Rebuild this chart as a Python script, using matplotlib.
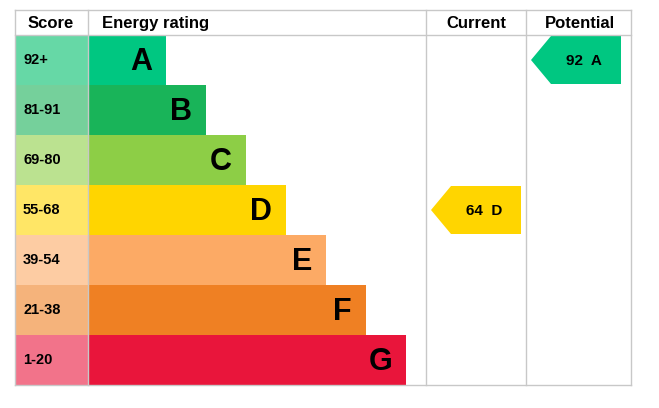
import matplotlib
matplotlib.use("Agg")
import matplotlib.pyplot as plt
from matplotlib.patches import Rectangle, Polygon

plt.rcParams["font.family"] = "Liberation Sans"

# data
letters = ["A", "B", "C", "D", "E", "F", "G"]
scores = ["92+", "81-91", "69-80", "55-68", "39-54", "21-38", "1-20"]
bar_ends = [166, 206, 246, 286, 326, 366, 406]
bar_colors = ["#00c781", "#19b459", "#8dce46", "#ffd500", "#fcaa65", "#ef8023", "#e9153b"]
cell_colors = ["#66d8a6", "#75d09b", "#bbe290", "#ffe666", "#fdcca3", "#f5b37b", "#f2738a"]
current = (64, "D")
potential = (92, "A")

W, H = 659, 408
fig = plt.figure(figsize=(W / 100, H / 100), dpi=100)
ax = fig.add_axes([0, 0, 1, 1])
ax.set_xlim(0, W)
ax.set_ylim(H, 0)
ax.axis("off")

left, right = 15, 631
top, head = 10, 35
rowh = 50
x_score, x_cur, x_pot = 88, 426, 526
bottom = head + rowh * len(letters)

def band_of(score):
    lims = [92, 81, 69, 55, 39, 21, 1]
    for i, lo in enumerate(lims):
        if score >= lo:
            return i
    return len(lims) - 1

for i, (l, s) in enumerate(zip(letters, scores)):
    y = head + i * rowh
    ax.add_patch(Rectangle((left, y), x_score - left, rowh, color=cell_colors[i], lw=0))
    ax.add_patch(Rectangle((x_score, y), bar_ends[i] - x_score, rowh, color=bar_colors[i], lw=0))
    ax.text(left + 8, y + rowh / 2, s, fontsize=10.5, fontweight="bold", va="center", ha="left")
    ax.text(bar_ends[i] - 14, y + rowh / 2 + 2, l, fontsize=22, fontweight="bold", va="center", ha="right")

# table lines
lc = "#c8c8c8"
for x in [left, x_score, x_cur, x_pot, right]:
    ax.plot([x, x], [top, bottom], color=lc, lw=1)
for y in [top, head, bottom]:
    ax.plot([left, right], [y, y], color=lc, lw=1)

hy = (top + head) / 2 + 1
ax.text(51, hy, "Score", fontsize=12, fontweight="bold", ha="center", va="center")
ax.text(102, hy, "Energy rating", fontsize=12, fontweight="bold", ha="left", va="center")
ax.text(476, hy, "Current", fontsize=12, fontweight="bold", ha="center", va="center")
ax.text(580, hy, "Potential", fontsize=12, fontweight="bold", ha="center", va="center")

def arrow(x0, val):
    score, letter = val
    i = band_of(score)
    y = head + i * rowh
    pts = [(x0 + 5, y + rowh / 2), (x0 + 25, y + 1), (x0 + 95, y + 1),
           (x0 + 95, y + rowh - 1), (x0 + 25, y + rowh - 1)]
    ax.add_patch(Polygon(pts, closed=True, color=bar_colors[i], lw=0))
    ax.text(x0 + 58, y + rowh / 2 + 1, f"{score}  {letter}", fontsize=11,
            fontweight="bold", ha="center", va="center")

arrow(x_cur, current)
arrow(x_pot, potential)

fig.savefig("out.png", dpi=100)
